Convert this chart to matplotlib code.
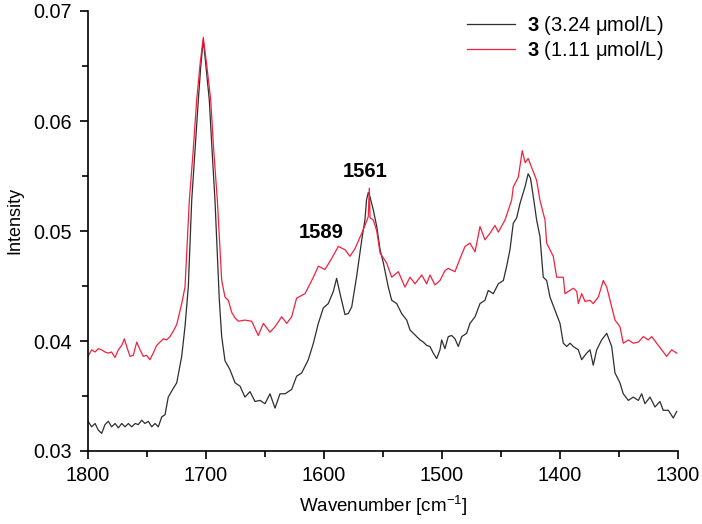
import matplotlib
matplotlib.use("Agg")
import matplotlib.pyplot as plt
from matplotlib.ticker import MultipleLocator

plt.rcParams['font.family'] = ['Liberation Sans', 'DejaVu Sans']
plt.rcParams['mathtext.fontset'] = 'custom'
plt.rcParams['mathtext.rm'] = 'Liberation Sans'
plt.rcParams['mathtext.bf'] = 'Liberation Sans:bold'

# ---- data: 3 (3.24 umol/L), black ----
wn_a = [1800, 1796.9, 1794, 1791.3, 1788.4, 1785.6, 1782.8, 1780, 1777, 1774.3, 1771.4, 1768.6,
        1765.8, 1763, 1760, 1757.4, 1754.5, 1751.7, 1748.9, 1746, 1743.2, 1740.4, 1737.5, 1734.7,
        1732, 1727.7, 1724.8, 1720.6, 1717.8, 1715, 1712.1, 1709.3, 1706.5, 1704.5, 1702.3, 1700,
        1697.2, 1694.9, 1692.4, 1688.7, 1686.7, 1683.9, 1679.7, 1675.4, 1671.2, 1667, 1662.7,
        1658.5, 1654.2, 1650, 1645.8, 1641.5, 1637.3, 1633, 1627.4, 1623.2, 1618.9, 1613.3, 1609,
        1604.8, 1600.6, 1596.4, 1592.1, 1589.3, 1586.4, 1582.2, 1579.4, 1576.5, 1572.3, 1568,
        1565.3, 1564, 1562.5, 1561, 1558.2, 1555.3, 1552.5, 1549.7, 1545.5, 1542.6, 1538.4, 1534.2,
        1529.9, 1527.1, 1524.3, 1521.4, 1518.6, 1515.8, 1513, 1510.2, 1507.4, 1504.5, 1501.7,
        1500.3, 1497.5, 1494.7, 1491.8, 1489, 1486.2, 1483.3, 1479.1, 1476.3, 1472, 1467.8, 1463.6,
        1460.8, 1456.5, 1452.3, 1448, 1445.2, 1442.4, 1439.6, 1436.7, 1433.9, 1429.7, 1427, 1425,
        1422.6, 1419.8, 1417, 1414.2, 1411.3, 1408.5, 1404.2, 1400, 1397.2, 1394.3, 1391.5, 1388.7,
        1384.5, 1381.6, 1377.4, 1374.6, 1371.8, 1368.9, 1364.7, 1360.4, 1356.2, 1353.4, 1349.2,
        1346.4, 1342.1, 1337.9, 1333.6, 1330.8, 1328, 1323.7, 1319.5, 1315.3, 1312.5, 1308.2, 1304,
        1301.1]
int_a = [0.0327, 0.0322, 0.0325, 0.0319, 0.0316, 0.0324, 0.0327, 0.0322, 0.0325, 0.0321, 0.0325,
         0.0322, 0.0325, 0.0322, 0.0325, 0.0324, 0.0328, 0.0325, 0.0327, 0.0322, 0.0325, 0.0322,
         0.0331, 0.0333, 0.0349, 0.0357, 0.0362, 0.0386, 0.0413, 0.0449, 0.0528, 0.0574, 0.0619,
         0.0649, 0.0674, 0.0649, 0.0619, 0.0574, 0.0528, 0.0437, 0.0404, 0.0382, 0.0374, 0.0362,
         0.0359, 0.0349, 0.0354, 0.0345, 0.0346, 0.0343, 0.0352, 0.0339, 0.0352, 0.0352, 0.0356,
         0.0368, 0.0371, 0.0383, 0.0398, 0.0416, 0.0430, 0.0434, 0.0445, 0.0457, 0.0443, 0.0424,
         0.0425, 0.0431, 0.0459, 0.0492, 0.0510, 0.0528, 0.0535, 0.0531, 0.0519, 0.0504, 0.0483,
         0.0471, 0.0449, 0.0437, 0.0434, 0.0425, 0.0419, 0.0410, 0.0407, 0.0404, 0.0401, 0.0399,
         0.0396, 0.0395, 0.0389, 0.0384, 0.0392, 0.0401, 0.0393, 0.0404, 0.0405, 0.0402, 0.0395,
         0.0404, 0.0407, 0.0416, 0.0422, 0.0434, 0.0437, 0.0446, 0.0443, 0.0452, 0.0455, 0.0468,
         0.0483, 0.0507, 0.0512, 0.0525, 0.0540, 0.0552, 0.0548, 0.0531, 0.0510, 0.0495, 0.0458,
         0.0455, 0.0440, 0.0428, 0.0416, 0.0398, 0.0395, 0.0398, 0.0395, 0.0392, 0.0383, 0.0389,
         0.0392, 0.0378, 0.0392, 0.0401, 0.0407, 0.0395, 0.0371, 0.0362, 0.0352, 0.0346, 0.0349,
         0.0346, 0.0352, 0.0343, 0.0349, 0.0340, 0.0345, 0.0337, 0.0337, 0.0330, 0.0336]

# ---- data: 3 (1.11 umol/L), red ----
wn_b = [1800, 1796.9, 1794, 1791.3, 1788.4, 1785.6, 1782.8, 1780, 1777.1, 1774.3, 1771.4, 1769.2,
        1767.2, 1764.4, 1761.6, 1758.7, 1755.9, 1753.1, 1750.3, 1747.5, 1744.7, 1741.8, 1739,
        1736.2, 1733.3, 1730.5, 1727.7, 1724.8, 1720.6, 1717.8, 1714.1, 1710.8, 1707.9, 1705,
        1702.3, 1699.5, 1696, 1693.5, 1690.4, 1686.7, 1683.9, 1681.1, 1678.2, 1675.4, 1672.6, 1667,
        1661.3, 1655.7, 1651.4, 1645.8, 1641.5, 1635.9, 1631.6, 1627.4, 1623.2, 1616.1, 1609,
        1604.8, 1599.2, 1593.5, 1587.9, 1582.2, 1578, 1573.7, 1568, 1565.3, 1562.5, 1561.6, 1561,
        1558.2, 1555.3, 1552.5, 1546.9, 1542.6, 1537, 1531.4, 1527.1, 1522.9, 1517.2, 1513,
        1510.2, 1506, 1501.7, 1497.5, 1494.7, 1489, 1484.7, 1480.5, 1476.3, 1472, 1467.8, 1463.6,
        1459.3, 1455.1, 1452.3, 1446.6, 1441, 1439.6, 1435.3, 1432, 1429.5, 1427, 1423, 1419.8,
        1417, 1412.7, 1411.3, 1408.5, 1405.7, 1402.8, 1397.2, 1395.8, 1391.5, 1388.7, 1385.8,
        1384.5, 1381.6, 1378.8, 1374.6, 1371.8, 1367.5, 1363.3, 1360.4, 1357.6, 1353.4, 1349.2,
        1346.4, 1342.1, 1337.9, 1333.6, 1329.4, 1325.2, 1322.3, 1318.1, 1313.8, 1309.6, 1305.4,
        1301.1]
int_b = [0.0386, 0.0392, 0.0390, 0.0393, 0.0392, 0.0390, 0.0389, 0.0390, 0.0385, 0.0392, 0.0396,
         0.0402, 0.0395, 0.0386, 0.0387, 0.0399, 0.0392, 0.0386, 0.0387, 0.0383, 0.0389, 0.0396,
         0.0399, 0.0402, 0.0401, 0.0404, 0.0409, 0.0415, 0.0434, 0.0449, 0.0528, 0.0574, 0.0619,
         0.0652, 0.0676, 0.0652, 0.0619, 0.0574, 0.0528, 0.0455, 0.0440, 0.0437, 0.0426, 0.0421,
         0.0418, 0.0419, 0.0418, 0.0405, 0.0416, 0.0408, 0.0413, 0.0422, 0.0416, 0.0422, 0.0439,
         0.0443, 0.0458, 0.0468, 0.0465, 0.0475, 0.0486, 0.0483, 0.0477, 0.0484, 0.0498, 0.0505,
         0.0513, 0.0539, 0.0512, 0.0510, 0.0500, 0.0480, 0.0471, 0.0458, 0.0463, 0.0449, 0.0458,
         0.0452, 0.0460, 0.0452, 0.0460, 0.0451, 0.0455, 0.0464, 0.0466, 0.0463, 0.0475, 0.0486,
         0.0489, 0.0481, 0.0504, 0.0492, 0.0498, 0.0505, 0.0499, 0.0510, 0.0528, 0.0540, 0.0549,
         0.0573, 0.0562, 0.0566, 0.0555, 0.0546, 0.0528, 0.0510, 0.0489, 0.0483, 0.0477, 0.0458,
         0.0458, 0.0443, 0.0446, 0.0448, 0.0445, 0.0434, 0.0443, 0.0436, 0.0437, 0.0434, 0.0440,
         0.0455, 0.0449, 0.0437, 0.0419, 0.0413, 0.0398, 0.0401, 0.0398, 0.0399, 0.0404, 0.0401,
         0.0404, 0.0398, 0.0392, 0.0386, 0.0392, 0.0389]

labels = [r'$\mathbf{3}$ (3.24 μmol/L)', r'$\mathbf{3}$ (1.11 μmol/L)']
colors = ['#2e2e2e', '#f5203e']
annotations = [('1589', 1602, 0.0499), ('1561', 1565, 0.0554)]

fig = plt.figure(figsize=(7.02, 5.24), dpi=100)
ax = fig.add_axes([88/702, 73/524, (678-88)/702, (513-73)/524])

ax.plot(wn_a, int_a, color=colors[0], lw=0.9, label=labels[0])
ax.plot(wn_b, int_b, color=colors[1], lw=0.9, label=labels[1])

ax.set_xlim(1800, 1300)
ax.set_ylim(0.03, 0.07)
ax.xaxis.set_major_locator(MultipleLocator(100))
ax.xaxis.set_minor_locator(MultipleLocator(50))
ax.yaxis.set_major_locator(MultipleLocator(0.01))
ax.yaxis.set_minor_locator(MultipleLocator(0.005))
ax.yaxis.set_major_formatter(plt.FuncFormatter(lambda v, p: f"{v:.2f}"))

for s in ['top', 'right']:
    ax.spines[s].set_visible(False)
for s in ['left', 'bottom']:
    ax.spines[s].set_linewidth(1.2)
ax.tick_params(which='major', direction='out', length=6, width=1.2, labelsize=14.3)
ax.tick_params(axis='y', which='major', pad=5.5)
ax.tick_params(axis='x', which='major', pad=5)
ax.tick_params(which='minor', direction='out', length=4, width=1.2)

ax.set_xlabel('Wavenumber [cm$^{-1}$]', fontsize=13.5)
ax.set_ylabel('Intensity', fontsize=13)
ax.yaxis.set_label_coords(-0.11, 0.525)
ax.xaxis.set_label_coords(0.5, -0.095)

for txt, x, y in annotations:
    ax.text(x, y, txt, fontsize=14.5, fontweight='bold', ha='center', va='center')

leg = ax.legend(loc='upper right', bbox_to_anchor=(663/702, 1 - 14/524),
                bbox_transform=fig.transFigure, frameon=False, fontsize=14.5,
                handlelength=2.4, handletextpad=0.55, labelspacing=0.1, borderpad=0.0,
                borderaxespad=0.0)

fig.savefig('out.png', dpi=100)
